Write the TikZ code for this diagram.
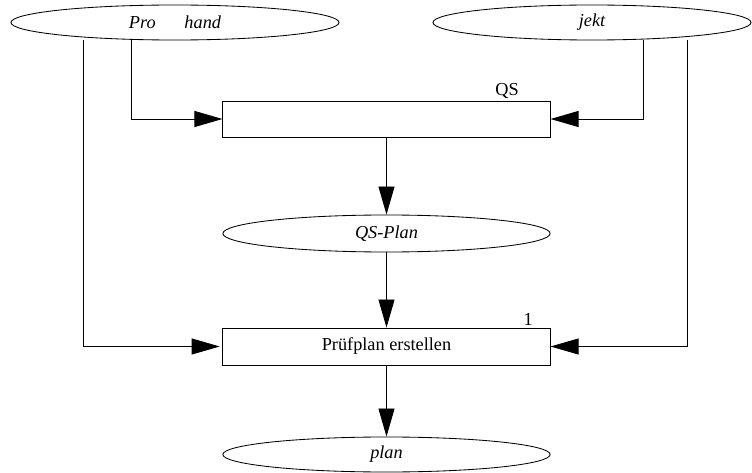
\documentclass[tikz,border=0pt]{standalone}
\usepackage{fontspec}
\setmainfont{Liberation Serif}
\usetikzlibrary{positioning, arrows.meta, shapes.geometric}
\tikzset{>={Triangle[length=7mm,width=4mm]}}

\begin{document}
\begin{tikzpicture}
    [
        x=0.025cm, y=-0.025cm, line width=0.6pt,
        data_node/.style={ellipse, draw=black, inner sep=0pt, minimum width=8.18cm, minimum height=9mm, font=\fontsize{13}{15}\selectfont\itshape},
        task_node/.style={rectangle, draw=black, inner sep=0pt, minimum width=8.18cm, minimum height=9mm, font=\fontsize{13}{15}\selectfont},
        tag/.style={anchor=south east, inner sep=1pt, font=\fontsize{13}{15}\selectfont},
    ]
  \useasboundingbox (0,0) rectangle (752,473);

  \node[data_node, minimum width=8.2cm, minimum height=8.75mm] (pro) at (175,22.5) {Pro\hspace{7.2mm}hand\hspace{6.6mm}};
  \node[data_node, minimum width=7.95cm, minimum height=8.75mm] (jekt) at (592,22.5) {jekt};
  \node[task_node, label={[tag, xshift=-7.5mm]north east:QS}] (qs) at (386.5,119) {};
  \node[data_node, minimum height=9.25mm] (qsplan) at (386.5,233.5) {QS-Plan};
  \node[task_node, minimum height=9.25mm, label={[tag, xshift=-4mm]north east:1}] (pruef) at (386.5,346.5) {Prüfplan erstellen};
  \node[data_node, minimum height=8.75mm] (plan) at (386.5,454.5) {plan};

  \draw[->] ([xshift=-1.1cm]pro.south) |- (qs.west);
  \draw[->, shorten >=2pt] ([xshift=-2.3cm]pro.south) |- (pruef.west);
  \draw[->] ([xshift=1.275cm]jekt.south) |- (qs.east);
  \draw[->] ([xshift=2.375cm]jekt.south) |- (pruef.east);
  \draw[->] (qs) -- (qsplan);
  \draw[->] (qsplan) -- (pruef);
  \draw[->] (pruef) -- (plan);
\end{tikzpicture}
\end{document}
